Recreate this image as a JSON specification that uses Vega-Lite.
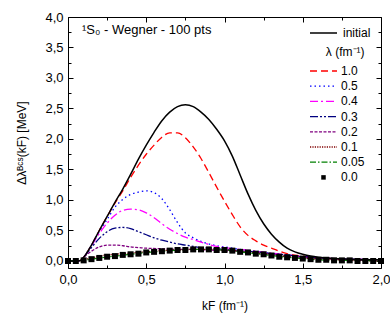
{
  "$schema": "https://vega.github.io/schema/vega-lite/v6.json",
  "width": 313,
  "height": 251,
  "padding": {"left": 15, "top": 11, "right": 12, "bottom": 5},
  "title": {"text": "¹S₀ - Wegner - 100 pts", "anchor": "start", "frame": "group", "offset": -26, "dx": 14, "fontSize": 13, "fontWeight": "normal", "font": "Liberation Sans", "color": "black"},
  "config": {
    "font": "Liberation Sans",
    "view": {"stroke": "black", "strokeWidth": 1},
    "axis": {"grid": false, "domain": false, "labelFlush": false, "tickColor": "black", "labelColor": "black", "titleColor": "black", "labelFontSize": 13, "titleFontSize": 12, "titleFontWeight": "normal", "labelFont": "Liberation Sans", "titleFont": "Liberation Sans"},
    "legend": {"labelFont": "Liberation Sans", "titleFont": "Liberation Sans", "labelColor": "black", "titleColor": "black", "labelFontWeight": "normal", "titleFontWeight": "normal"}
  },
  "data": {"values": [
    {"s":"initial","k":0,"d":0},{"s":"initial","k":0.05,"d":0},{"s":"initial","k":0.08,"d":0.01},{"s":"initial","k":0.1,"d":0.06},{"s":"initial","k":0.15,"d":0.26},{"s":"initial","k":0.2,"d":0.5},{"s":"initial","k":0.25,"d":0.73},{"s":"initial","k":0.3,"d":0.96},{"s":"initial","k":0.35,"d":1.18},{"s":"initial","k":0.4,"d":1.42},{"s":"initial","k":0.45,"d":1.67},{"s":"initial","k":0.5,"d":1.9},{"s":"initial","k":0.55,"d":2.11},{"s":"initial","k":0.6,"d":2.3},{"s":"initial","k":0.65,"d":2.44},{"s":"initial","k":0.7,"d":2.53},{"s":"initial","k":0.75,"d":2.56},{"s":"initial","k":0.8,"d":2.53},{"s":"initial","k":0.85,"d":2.44},{"s":"initial","k":0.9,"d":2.32},{"s":"initial","k":0.95,"d":2.16},{"s":"initial","k":1.0,"d":1.97},{"s":"initial","k":1.05,"d":1.72},{"s":"initial","k":1.1,"d":1.41},{"s":"initial","k":1.15,"d":1.1},{"s":"initial","k":1.2,"d":0.83},{"s":"initial","k":1.25,"d":0.61},{"s":"initial","k":1.3,"d":0.44},{"s":"initial","k":1.35,"d":0.31},{"s":"initial","k":1.4,"d":0.21},{"s":"initial","k":1.45,"d":0.15},{"s":"initial","k":1.5,"d":0.11},{"s":"initial","k":1.55,"d":0.08},{"s":"initial","k":1.6,"d":0.06},{"s":"initial","k":1.7,"d":0.04},{"s":"initial","k":1.8,"d":0.03},{"s":"initial","k":1.9,"d":0.02},{"s":"initial","k":2.0,"d":0.02},

    {"s":"1.0","k":0,"d":0},{"s":"1.0","k":0.05,"d":0},{"s":"1.0","k":0.08,"d":0.01},{"s":"1.0","k":0.1,"d":0.06},{"s":"1.0","k":0.15,"d":0.26},{"s":"1.0","k":0.2,"d":0.5},{"s":"1.0","k":0.25,"d":0.73},{"s":"1.0","k":0.3,"d":0.95},{"s":"1.0","k":0.35,"d":1.15},{"s":"1.0","k":0.4,"d":1.37},{"s":"1.0","k":0.45,"d":1.57},{"s":"1.0","k":0.5,"d":1.75},{"s":"1.0","k":0.55,"d":1.9},{"s":"1.0","k":0.6,"d":2.03},{"s":"1.0","k":0.65,"d":2.1},{"s":"1.0","k":0.7,"d":2.1},{"s":"1.0","k":0.75,"d":2.02},{"s":"1.0","k":0.8,"d":1.87},{"s":"1.0","k":0.85,"d":1.68},{"s":"1.0","k":0.9,"d":1.45},{"s":"1.0","k":0.95,"d":1.21},{"s":"1.0","k":1.0,"d":0.98},{"s":"1.0","k":1.05,"d":0.76},{"s":"1.0","k":1.1,"d":0.56},{"s":"1.0","k":1.15,"d":0.42},{"s":"1.0","k":1.2,"d":0.33},{"s":"1.0","k":1.25,"d":0.26},{"s":"1.0","k":1.3,"d":0.21},{"s":"1.0","k":1.35,"d":0.16},{"s":"1.0","k":1.4,"d":0.12},{"s":"1.0","k":1.5,"d":0.08},{"s":"1.0","k":1.6,"d":0.05},{"s":"1.0","k":1.7,"d":0.04},{"s":"1.0","k":1.8,"d":0.03},{"s":"1.0","k":2.0,"d":0.02},

    {"s":"0.5","k":0,"d":0},{"s":"0.5","k":0.05,"d":0},{"s":"0.5","k":0.08,"d":0.01},{"s":"0.5","k":0.1,"d":0.06},{"s":"0.5","k":0.15,"d":0.26},{"s":"0.5","k":0.2,"d":0.48},{"s":"0.5","k":0.25,"d":0.68},{"s":"0.5","k":0.3,"d":0.88},{"s":"0.5","k":0.35,"d":1.01},{"s":"0.5","k":0.4,"d":1.09},{"s":"0.5","k":0.45,"d":1.13},{"s":"0.5","k":0.5,"d":1.15},{"s":"0.5","k":0.55,"d":1.12},{"s":"0.5","k":0.6,"d":1.02},{"s":"0.5","k":0.65,"d":0.84},{"s":"0.5","k":0.7,"d":0.63},{"s":"0.5","k":0.75,"d":0.46},{"s":"0.5","k":0.8,"d":0.38},{"s":"0.5","k":0.85,"d":0.32},{"s":"0.5","k":0.9,"d":0.28},{"s":"0.5","k":0.95,"d":0.25},{"s":"0.5","k":1.0,"d":0.23},{"s":"0.5","k":1.05,"d":0.21},{"s":"0.5","k":1.1,"d":0.19},{"s":"0.5","k":1.2,"d":0.16},{"s":"0.5","k":1.3,"d":0.12},{"s":"0.5","k":1.4,"d":0.09},{"s":"0.5","k":1.5,"d":0.07},{"s":"0.5","k":1.6,"d":0.05},{"s":"0.5","k":1.7,"d":0.04},{"s":"0.5","k":1.8,"d":0.03},{"s":"0.5","k":2.0,"d":0.02},

    {"s":"0.4","k":0,"d":0},{"s":"0.4","k":0.05,"d":0},{"s":"0.4","k":0.08,"d":0.01},{"s":"0.4","k":0.1,"d":0.06},{"s":"0.4","k":0.15,"d":0.25},{"s":"0.4","k":0.2,"d":0.45},{"s":"0.4","k":0.25,"d":0.62},{"s":"0.4","k":0.3,"d":0.75},{"s":"0.4","k":0.35,"d":0.83},{"s":"0.4","k":0.4,"d":0.85},{"s":"0.4","k":0.45,"d":0.84},{"s":"0.4","k":0.5,"d":0.79},{"s":"0.4","k":0.55,"d":0.71},{"s":"0.4","k":0.6,"d":0.61},{"s":"0.4","k":0.65,"d":0.52},{"s":"0.4","k":0.7,"d":0.45},{"s":"0.4","k":0.75,"d":0.39},{"s":"0.4","k":0.8,"d":0.35},{"s":"0.4","k":0.85,"d":0.31},{"s":"0.4","k":0.9,"d":0.27},{"s":"0.4","k":0.95,"d":0.24},{"s":"0.4","k":1.0,"d":0.22},{"s":"0.4","k":1.1,"d":0.19},{"s":"0.4","k":1.2,"d":0.16},{"s":"0.4","k":1.3,"d":0.13},{"s":"0.4","k":1.4,"d":0.1},{"s":"0.4","k":1.5,"d":0.07},{"s":"0.4","k":1.6,"d":0.05},{"s":"0.4","k":1.7,"d":0.04},{"s":"0.4","k":1.8,"d":0.03},{"s":"0.4","k":2.0,"d":0.02},

    {"s":"0.3","k":0,"d":0},{"s":"0.3","k":0.05,"d":0},{"s":"0.3","k":0.08,"d":0.01},{"s":"0.3","k":0.1,"d":0.06},{"s":"0.3","k":0.15,"d":0.22},{"s":"0.3","k":0.2,"d":0.37},{"s":"0.3","k":0.25,"d":0.48},{"s":"0.3","k":0.3,"d":0.54},{"s":"0.3","k":0.35,"d":0.55},{"s":"0.3","k":0.4,"d":0.53},{"s":"0.3","k":0.45,"d":0.48},{"s":"0.3","k":0.5,"d":0.43},{"s":"0.3","k":0.55,"d":0.38},{"s":"0.3","k":0.6,"d":0.34},{"s":"0.3","k":0.65,"d":0.31},{"s":"0.3","k":0.7,"d":0.28},{"s":"0.3","k":0.75,"d":0.26},{"s":"0.3","k":0.8,"d":0.24},{"s":"0.3","k":0.85,"d":0.22},{"s":"0.3","k":0.9,"d":0.21},{"s":"0.3","k":1.0,"d":0.19},{"s":"0.3","k":1.1,"d":0.17},{"s":"0.3","k":1.2,"d":0.15},{"s":"0.3","k":1.3,"d":0.12},{"s":"0.3","k":1.4,"d":0.1},{"s":"0.3","k":1.5,"d":0.07},{"s":"0.3","k":1.6,"d":0.05},{"s":"0.3","k":1.7,"d":0.04},{"s":"0.3","k":1.8,"d":0.03},{"s":"0.3","k":2.0,"d":0.02},

    {"s":"0.2","k":0,"d":0},{"s":"0.2","k":0.05,"d":0},{"s":"0.2","k":0.08,"d":0.01},{"s":"0.2","k":0.1,"d":0.06},{"s":"0.2","k":0.15,"d":0.16},{"s":"0.2","k":0.2,"d":0.23},{"s":"0.2","k":0.25,"d":0.26},{"s":"0.2","k":0.3,"d":0.26},{"s":"0.2","k":0.35,"d":0.25},{"s":"0.2","k":0.4,"d":0.23},{"s":"0.2","k":0.45,"d":0.22},{"s":"0.2","k":0.5,"d":0.21},{"s":"0.2","k":0.6,"d":0.2},{"s":"0.2","k":0.7,"d":0.19},{"s":"0.2","k":0.8,"d":0.19},{"s":"0.2","k":0.9,"d":0.18},{"s":"0.2","k":1.0,"d":0.17},{"s":"0.2","k":1.1,"d":0.16},{"s":"0.2","k":1.2,"d":0.14},{"s":"0.2","k":1.3,"d":0.11},{"s":"0.2","k":1.4,"d":0.08},{"s":"0.2","k":1.5,"d":0.06},{"s":"0.2","k":1.6,"d":0.04},{"s":"0.2","k":1.7,"d":0.03},{"s":"0.2","k":1.8,"d":0.02},{"s":"0.2","k":2.0,"d":0.01},

    {"s":"0.1","k":0,"d":0},{"s":"0.1","k":0.05,"d":0},{"s":"0.1","k":0.1,"d":0.02},{"s":"0.1","k":0.15,"d":0.05},{"s":"0.1","k":0.2,"d":0.08},{"s":"0.1","k":0.25,"d":0.1},{"s":"0.1","k":0.3,"d":0.11},{"s":"0.1","k":0.4,"d":0.13},{"s":"0.1","k":0.5,"d":0.15},{"s":"0.1","k":0.6,"d":0.17},{"s":"0.1","k":0.7,"d":0.18},{"s":"0.1","k":0.8,"d":0.19},{"s":"0.1","k":0.9,"d":0.19},{"s":"0.1","k":1.0,"d":0.18},{"s":"0.1","k":1.1,"d":0.16},{"s":"0.1","k":1.2,"d":0.13},{"s":"0.1","k":1.3,"d":0.1},{"s":"0.1","k":1.4,"d":0.07},{"s":"0.1","k":1.5,"d":0.05},{"s":"0.1","k":1.6,"d":0.03},{"s":"0.1","k":1.7,"d":0.02},{"s":"0.1","k":1.8,"d":0.01},{"s":"0.1","k":2.0,"d":0},

    {"s":"0.05","k":0,"d":0},{"s":"0.05","k":0.1,"d":0.01},{"s":"0.05","k":0.2,"d":0.05},{"s":"0.05","k":0.3,"d":0.08},{"s":"0.05","k":0.4,"d":0.11},{"s":"0.05","k":0.5,"d":0.14},{"s":"0.05","k":0.6,"d":0.16},{"s":"0.05","k":0.7,"d":0.18},{"s":"0.05","k":0.8,"d":0.19},{"s":"0.05","k":0.9,"d":0.19},{"s":"0.05","k":1.0,"d":0.18},{"s":"0.05","k":1.1,"d":0.15},{"s":"0.05","k":1.2,"d":0.12},{"s":"0.05","k":1.3,"d":0.09},{"s":"0.05","k":1.4,"d":0.06},{"s":"0.05","k":1.5,"d":0.04},{"s":"0.05","k":1.6,"d":0.02},{"s":"0.05","k":1.7,"d":0.01},{"s":"0.05","k":1.8,"d":0.01},{"s":"0.05","k":2.0,"d":0},

    {"s":"0.0","k":0,"d":0},{"s":"0.0","k":0.05,"d":0},{"s":"0.0","k":0.1,"d":0.01},{"s":"0.0","k":0.15,"d":0.03},{"s":"0.0","k":0.2,"d":0.05},{"s":"0.0","k":0.25,"d":0.07},{"s":"0.0","k":0.3,"d":0.08},{"s":"0.0","k":0.35,"d":0.1},{"s":"0.0","k":0.4,"d":0.11},{"s":"0.0","k":0.45,"d":0.12},{"s":"0.0","k":0.5,"d":0.14},{"s":"0.0","k":0.55,"d":0.15},{"s":"0.0","k":0.6,"d":0.16},{"s":"0.0","k":0.65,"d":0.17},{"s":"0.0","k":0.7,"d":0.18},{"s":"0.0","k":0.75,"d":0.18},{"s":"0.0","k":0.8,"d":0.19},{"s":"0.0","k":0.85,"d":0.19},{"s":"0.0","k":0.9,"d":0.19},{"s":"0.0","k":0.95,"d":0.18},{"s":"0.0","k":1.0,"d":0.18},{"s":"0.0","k":1.05,"d":0.17},{"s":"0.0","k":1.1,"d":0.15},{"s":"0.0","k":1.15,"d":0.14},{"s":"0.0","k":1.2,"d":0.12},{"s":"0.0","k":1.25,"d":0.11},{"s":"0.0","k":1.3,"d":0.09},{"s":"0.0","k":1.35,"d":0.07},{"s":"0.0","k":1.4,"d":0.06},{"s":"0.0","k":1.45,"d":0.05},{"s":"0.0","k":1.5,"d":0.04},{"s":"0.0","k":1.55,"d":0.03},{"s":"0.0","k":1.6,"d":0.02},{"s":"0.0","k":1.65,"d":0.02},{"s":"0.0","k":1.7,"d":0.01},{"s":"0.0","k":1.75,"d":0.01},{"s":"0.0","k":1.8,"d":0.01},{"s":"0.0","k":1.85,"d":0},{"s":"0.0","k":1.9,"d":0},{"s":"0.0","k":1.95,"d":0},{"s":"0.0","k":2.0,"d":0}
  ]},
  "layer": [
    {
      "transform": [{"filter": "datum.s != 'initial' && datum.s != '0.0'"}],
      "mark": {"type": "line", "strokeWidth": 1.3, "interpolate": "monotone"},
      "encoding": {
        "x": {"field": "k", "type": "quantitative", "scale": {"domain": [0, 2], "nice": false, "zero": false},
          "axis": {"orient": "bottom", "values": [0,0.25,0.5,0.75,1,1.25,1.5,1.75,2], "labelExpr": "datum.value % 0.5 == 0 ? replace(format(datum.value, '.1f'), '.', ',') : ''", "tickSize": {"condition": {"test": "datum.value % 0.5 == 0", "value": -5}, "value": -3}, "labelPadding": 10, "title": "kF (fm⁻¹)", "titlePadding": 14}},
        "y": {"field": "d", "type": "quantitative", "scale": {"domain": [-0.115, 4], "nice": false, "zero": false},
          "axis": {"orient": "left", "values": [0,0.25,0.5,0.75,1,1.25,1.5,1.75,2,2.25,2.5,2.75,3,3.25,3.5,3.75,4], "labelExpr": "datum.value % 0.5 == 0 ? replace(format(datum.value, '.1f'), '.', ',') : ''", "tickSize": {"condition": {"test": "datum.value % 0.5 == 0", "value": -5}, "value": -3}, "labelPadding": 10, "title": "Δλᴮᶜˢ(kF) [MeV]", "titlePadding": 16}},
        "color": {"field": "s", "type": "nominal",
          "scale": {"domain": ["1.0","0.5","0.4","0.3","0.2","0.1","0.05","0.0"], "range": ["#ff0000","#0000ff","#ff00ff","#000080","#800080","#800000","#008000","#000000"]},
          "legend": {"orient": "none", "legendX": 249.5, "legendY": 30, "title": "λ (fm⁻¹)", "titleFontSize": 12, "titleAnchor": "end", "labelFontSize": 12, "symbolType": "M-2.7,0H2.7", "symbolSize": 100, "symbolStrokeWidth": 1.3, "rowPadding": 3.2, "labelOffset": 11.5, "padding": 0, "titlePadding": 6,
            "encode": {"symbols": {"update": {"shape": {"signal": "datum.value === '0.0' ? 'M-0.45,-0.45H0.45V0.45H-0.45Z' : 'M-2.7,0H2.7'"}, "fill": {"signal": "datum.value === '0.0' ? 'black' : 'transparent'"}, "strokeOpacity": {"signal": "datum.value === '0.0' ? 0 : 1"}}}}}},
        "strokeDash": {"field": "s", "type": "nominal",
          "scale": {"domain": ["1.0","0.5","0.4","0.3","0.2","0.1","0.05","0.0"], "range": [[7,4],[1.5,3],[8,3,2,3],[8,2,2,2,2,2],[3,1.5],[1.2,1.2],[6,2,1.5,2],[1,0]]},
          "legend": {"orient": "none", "legendX": 249.5, "legendY": 30, "title": "λ (fm⁻¹)", "titleFontSize": 12, "titleAnchor": "end", "labelFontSize": 12, "symbolType": "M-2.7,0H2.7", "symbolSize": 100, "symbolStrokeWidth": 1.3, "rowPadding": 3.2, "labelOffset": 11.5, "padding": 0, "titlePadding": 6,
            "encode": {"symbols": {"update": {"shape": {"signal": "datum.value === '0.0' ? 'M-0.45,-0.45H0.45V0.45H-0.45Z' : 'M-2.7,0H2.7'"}, "fill": {"signal": "datum.value === '0.0' ? 'black' : 'transparent'"}, "strokeOpacity": {"signal": "datum.value === '0.0' ? 0 : 1"}}}}}}
      }
    },
    {
      "transform": [{"filter": "datum.s == 'initial'"}],
      "mark": {"type": "line", "strokeWidth": 1.5, "interpolate": "monotone"},
      "encoding": {
        "x": {"field": "k", "type": "quantitative", "scale": {"domain": [0, 2], "nice": false, "zero": false}, "axis": null},
        "y": {"field": "d", "type": "quantitative", "scale": {"domain": [-0.115, 4], "nice": false, "zero": false}, "axis": null},
        "color": {"field": "s", "type": "nominal", "scale": {"domain": ["initial"], "range": ["#000000"]},
          "legend": {"orient": "none", "legendX": 249.5, "legendY": 10, "title": null, "labelFontSize": 12, "symbolType": "M-2.7,0H2.7", "symbolSize": 100, "symbolStrokeWidth": 1.5, "labelOffset": 13.5, "padding": 0}}
      }
    },
    {
      "transform": [{"filter": "datum.s == '0.0'"}],
      "mark": {"type": "point", "shape": "square", "filled": true, "color": "black", "size": 36, "opacity": 1},
      "encoding": {
        "x": {"field": "k", "type": "quantitative", "scale": {"domain": [0, 2], "nice": false, "zero": false},
          "axis": {"orient": "top", "values": [0,0.25,0.5,0.75,1,1.25,1.5,1.75,2], "labels": false, "title": null, "tickSize": {"condition": {"test": "datum.value % 0.5 == 0", "value": -5}, "value": -3}}},
        "y": {"field": "d", "type": "quantitative", "scale": {"domain": [-0.115, 4], "nice": false, "zero": false},
          "axis": {"orient": "right", "values": [0,0.25,0.5,0.75,1,1.25,1.5,1.75,2,2.25,2.5,2.75,3,3.25,3.5,3.75,4], "labels": false, "title": null, "tickSize": {"condition": {"test": "datum.value % 0.5 == 0", "value": -5}, "value": -3}}}
      }
    }
  ],
  "resolve": {"scale": {"color": "independent", "strokeDash": "independent"}, "axis": {"x": "independent", "y": "independent"}}
}
